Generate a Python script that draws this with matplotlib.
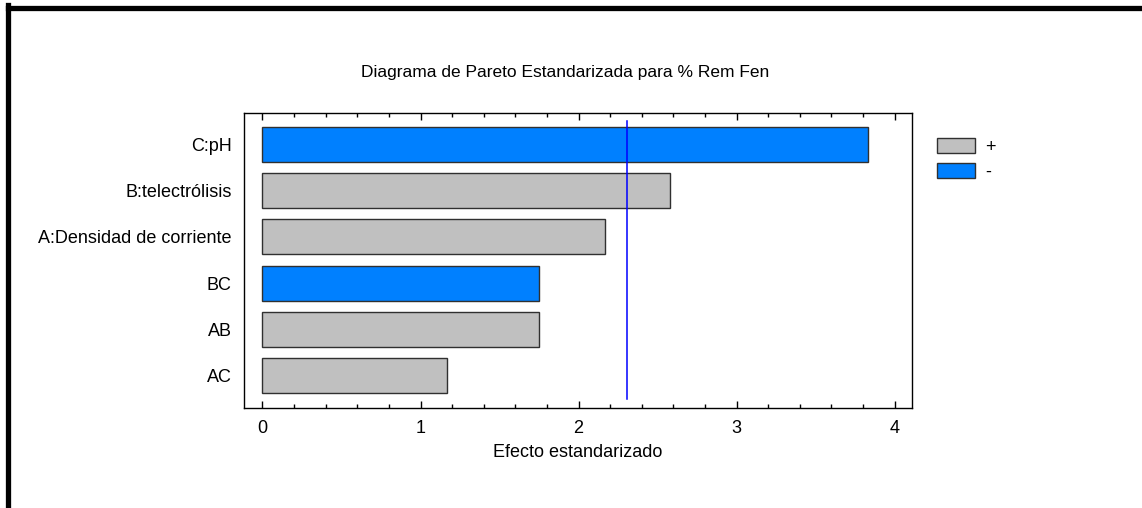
import matplotlib
matplotlib.use("Agg")
import matplotlib.pyplot as plt
from matplotlib.patches import Patch
from matplotlib.lines import Line2D
from matplotlib.ticker import MultipleLocator

plt.rcParams['font.family'] = ['Liberation Sans', 'DejaVu Sans']

# Data (top to bottom as shown)
effects = ["C:pH", "B:telectrólisis", "A:Densidad de corriente", "BC", "AB", "AC"]
values = [3.834, 2.579, 2.168, 1.752, 1.752, 1.17]
signs = ["-", "+", "+", "-", "+", "+"]
t_crit = 2.306

sign_colors = {"+": "#C0C0C0", "-": "#0080FF"}
fs = 13

fig = plt.figure(figsize=(11.42, 5.08), dpi=100)
ax = fig.add_axes([244 / 1142, 1 - 408 / 508, (912 - 244) / 1142, (408 - 113) / 508])

# draw bottom-up so first item ends on top
ypos = list(range(len(effects)))[::-1]
ax.barh(ypos, values, height=0.76, color=[sign_colors[s] for s in signs],
        edgecolor="#303030", linewidth=1.0)
ax.plot([t_crit, t_crit], [-0.5, len(effects) - 0.5], color="#0000FF", linewidth=1.1)

ax.set_xlim(-0.117, 4.11)
ax.set_ylim(-0.7, len(effects) - 1 + 0.68)
ax.set_yticks(ypos)
ax.set_yticklabels(effects, fontsize=fs)
ax.tick_params(axis="y", length=0, pad=9)
ax.xaxis.set_major_locator(MultipleLocator(1))
ax.xaxis.set_minor_locator(MultipleLocator(0.2))
ax.tick_params(axis="x", which="both", direction="in", top=True, labelsize=fs, pad=8.5)
ax.tick_params(axis="x", which="major", length=5, width=1)
ax.tick_params(axis="x", which="minor", length=3, width=1)
ax.set_xlabel("Efecto estandarizado", fontsize=fs, labelpad=5)
for sp in ax.spines.values():
    sp.set_linewidth(1.0)

fig.text(565 / 1142, 1 - 73 / 508, "Diagrama de Pareto Estandarizada para % Rem Fen",
         ha="center", va="center", fontsize=12.5)

handles = [Patch(facecolor=sign_colors["+"], edgecolor="#303030", label="+"),
           Patch(facecolor=sign_colors["-"], edgecolor="#303030", label="-")]
fig.legend(handles=handles, loc="upper left", bbox_to_anchor=(930 / 1142, 1 - 131 / 508),
           frameon=False, fontsize=fs, handlelength=2.1, handleheight=0.9,
           handletextpad=0.55, labelspacing=0.4, borderaxespad=0)

# thick frame on the top and left edges
fig.add_artist(Line2D([7.5 / 1142, 1], [1 - 7.5 / 508, 1 - 7.5 / 508],
                      color="black", linewidth=3.8, transform=fig.transFigure))
fig.add_artist(Line2D([7.5 / 1142, 7.5 / 1142], [0, 1 - 5 / 508],
                      color="black", linewidth=3.8, transform=fig.transFigure))

fig.savefig("out.png", dpi=100)
